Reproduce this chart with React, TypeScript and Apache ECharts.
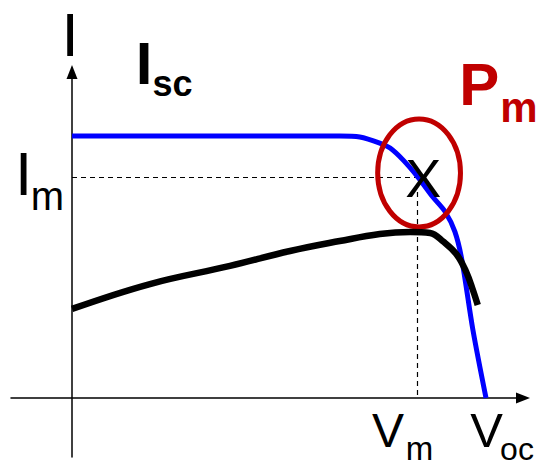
import React, { useEffect, useRef } from "react";
import * as echarts from "echarts";

// I-V curve (blue): normalized current vs voltage
const ivVoltage = [0, 0.1, 0.2, 0.3, 0.388, 0.417, 0.446, 0.461, 0.48, 0.501, 0.523, 0.541, 0.555, 0.565, 0.581, 0.6];
const ivCurrent = [1, 1, 1, 1, 1, 0.996, 0.973, 0.954, 0.908, 0.844, 0.767, 0.71, 0.634, 0.527, 0.26, 0];

// P-V curve (black), scaled to the same axes
const pvVoltage = [0, 0.113, 0.229, 0.316, 0.388, 0.446, 0.49, 0.519, 0.538, 0.558, 0.572, 0.581, 0.588];
const pvPower = [0.34, 0.435, 0.504, 0.561, 0.599, 0.626, 0.634, 0.63, 0.597, 0.546, 0.477, 0.412, 0.355];

// Maximum power point
const VM = 0.5007;
const IM = 0.8416;
const mppMarker = [0.509, 0.84];
// ellipse around MPP: centre V, centre I, radius V, radius I
const mppEllipse = [0.503, 0.859, 0.06, 0.206];

// axis ranges
const X_MIN = -0.0884;
const X_MAX = 0.6536;
const Y_MIN = -0.2252;
const Y_MAX = 1.2443;

const FONT = '"Liberation Sans", Arial, sans-serif';

function txt(x: number, y: number, text: string, size: number, bold = false, color = "#000") {
  return {
    type: "text",
    x,
    y,
    z: 100,
    style: {
      text,
      fontSize: size,
      fontFamily: FONT,
      fontWeight: bold ? "bold" : "normal",
      fill: color,
      align: "center",
      verticalAlign: "middle",
      textAlign: "center",
      textVerticalAlign: "middle",
    },
  };
}

export default function App() {
  const ref = useRef<HTMLDivElement>(null);
  useEffect(() => {
    if (!ref.current) return;
    const chart = echarts.init(ref.current, undefined, { renderer: "svg" });
    const ivData = ivVoltage.map((v, i) => [v, ivCurrent[i]]);
    const pvData = pvVoltage.map((v, i) => [v, pvPower[i]]);
    const axisCommon = {
      type: "value",
      axisTick: { show: false },
      axisLabel: { show: false },
      splitLine: { show: false },
    };
    chart.setOption({
      animation: false,
      backgroundColor: "#fff",
      grid: { left: 11, right: 17, top: 72, bottom: 5, containLabel: false },
      xAxis: {
        ...axisCommon,
        min: X_MIN,
        max: X_MAX,
        axisLine: {
          show: true,
          onZero: true,
          symbol: ["none", "triangle"],
          symbolSize: [11, 14],
          lineStyle: { color: "#000", width: 1.5 },
        },
      },
      yAxis: {
        ...axisCommon,
        min: Y_MIN,
        max: Y_MAX,
        axisLine: {
          show: true,
          onZero: true,
          symbol: ["none", "triangle"],
          symbolSize: [11, 14],
          lineStyle: { color: "#000", width: 1.5 },
        },
      },
      series: [
        {
          type: "line",
          data: [[0, IM], [VM, IM], [VM, 0]],
          showSymbol: false,
          lineStyle: { color: "#000", width: 1.2, type: [5, 4] },
          z: 1,
        },
        {
          type: "line",
          data: ivData,
          showSymbol: false,
          smooth: 0.3,
          lineStyle: { color: "#0000ff", width: 5 },
          z: 2,
        },
        {
          type: "custom",
          data: [mppEllipse],
          encode: { x: 0, y: 1 },
          z: 3,
          renderItem: (params: any, api: any) => {
            const c = api.coord([api.value(0), api.value(1)]);
            const s = api.size([api.value(2), api.value(3)]);
            return {
              type: "ellipse",
              shape: { cx: c[0], cy: c[1], rx: s[0], ry: s[1] },
              style: { fill: "none", stroke: "#c00000", lineWidth: 5 },
            };
          },
        },
        {
          type: "line",
          data: pvData,
          showSymbol: false,
          smooth: 0.4,
          lineStyle: { color: "#000", width: 6.5 },
          z: 4,
        },
        {
          type: "custom",
          data: [mppMarker],
          encode: { x: 0, y: 1 },
          z: 5,
          renderItem: (params: any, api: any) => {
            const c = api.coord([api.value(0), api.value(1)]);
            return {
              type: "text",
              x: c[0],
              y: c[1],
              style: {
                text: "X",
                fontSize: 54,
                fontFamily: FONT,
                fill: "#000",
                align: "center",
                verticalAlign: "middle",
              },
            };
          },
        },
      ],
      graphic: [
        txt(70, 34, "I", 62),
        txt(144, 63.5, "I", 60, true),
        txt(172.5, 83, "sc", 36, true),
        txt(23.5, 173.5, "I", 62),
        txt(47.5, 196, "m", 40),
        txt(479.3, 84.5, "P", 60, true, "#c00000"),
        txt(519, 107, "m", 42, true, "#c00000"),
        txt(388, 430, "V", 48),
        txt(419.5, 448, "m", 33),
        txt(486.5, 429.5, "V", 49),
        txt(517, 448.5, "oc", 32),
      ],
    });
    return () => chart.dispose();
  }, []);
  return (
    <div
      ref={ref}
      style={{ position: "fixed", left: 0, top: 0, width: 540, height: 462, background: "#fff" }}
    />
  );
}
